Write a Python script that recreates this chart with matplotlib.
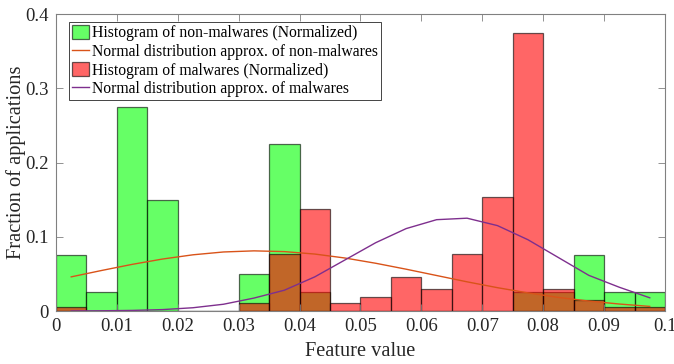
import numpy as np
import matplotlib
matplotlib.use("Agg")
import matplotlib.pyplot as plt

plt.rcParams['font.family'] = ['Liberation Serif', 'DejaVu Serif']

# histogram bins (width 0.005)
bin_edges = np.round(np.arange(0, 0.1001, 0.005), 4)
bin_centers = bin_edges[:-1] + 0.0025

# normalized histogram heights
non_malware = [0.075, 0.025, 0.275, 0.15, 0, 0, 0.05, 0.225, 0.025, 0,
               0, 0, 0, 0, 0, 0.025, 0.025, 0.075, 0.025, 0.025]
malware = [0.005, 0, 0, 0, 0, 0, 0.0105, 0.077, 0.138, 0.0105,
           0.019, 0.046, 0.030, 0.077, 0.154, 0.375, 0.030, 0.015, 0.005, 0.005]

# normal approximations, read at bin centers
normal_non_malware = [0.046, 0.0546, 0.0628, 0.070, 0.0757, 0.0795, 0.081, 0.080,
                      0.0767, 0.0713, 0.0643, 0.0563, 0.0478, 0.0393, 0.0314,
                      0.0244, 0.0183, 0.0134, 0.0094, 0.0062]
normal_malware = [0.0001, 0.0003, 0.0008, 0.0019, 0.0044, 0.0091, 0.0174, 0.028,
                  0.046, 0.069, 0.092, 0.111, 0.123, 0.125, 0.115, 0.096, 0.072,
                  0.048, 0.032, 0.0178]

fig = plt.figure(figsize=(6.74, 3.64), dpi=100)
ax = fig.add_axes([0.0831, 0.1456, 0.9035, 0.8159])

edge = (0, 0, 0, 0.6)
h1 = ax.bar(bin_edges[:-1], non_malware, width=0.005, align='edge',
            color=(0, 1, 0, 0.6), edgecolor=edge, linewidth=0.9,
            label='Histogram of non-malwares (Normalized)')
h2, = ax.plot(bin_centers, normal_non_malware, color='#D95319', lw=1.0,
              label='Normal distribution approx. of non-malwares')
h3 = ax.bar(bin_edges[:-1], malware, width=0.005, align='edge',
            color=(1, 0, 0, 0.6), edgecolor=edge, linewidth=0.9,
            label='Histogram of malwares (Normalized)')
h4, = ax.plot(bin_centers, normal_malware, color='#7E2F8E', lw=1.0,
              label='Normal distribution approx. of malwares')

ax.set_xlim(0, 0.1)
ax.set_ylim(0, 0.4)
ax.set_xticks(np.round(np.arange(0, 0.1001, 0.01), 2))
ax.set_xticklabels(['0', '0.01', '0.02', '0.03', '0.04', '0.05', '0.06',
                    '0.07', '0.08', '0.09', '0.1'])
ax.set_yticks([0, 0.1, 0.2, 0.3, 0.4])
ax.set_yticklabels(['0', '0.1', '0.2', '0.3', '0.4'])
ax.tick_params(direction='in', top=True, right=True, length=5, width=0.6,
               labelsize=13.5, colors='#262626', pad=5)
ax.tick_params(axis='both', color='#808080')
for s in ax.spines.values():
    s.set_color('#808080')
    s.set_linewidth(0.8)

ax.set_xlabel('Feature value', fontsize=14.7, color='#262626', labelpad=5)
ax.set_ylabel('Fraction of applications', fontsize=14.7, color='#262626', labelpad=0)

leg = ax.legend([h1, h2, h3, h4], [h.get_label() for h in (h1, h2, h3, h4)],
                loc='upper left', bbox_to_anchor=(0.021, 0.973), borderaxespad=0,
                fontsize=11.3, fancybox=False, framealpha=1, edgecolor='#262626',
                handlelength=1.1, handleheight=1.05, handletextpad=0.2,
                labelspacing=0.12, borderpad=0.18)
leg.get_frame().set_linewidth(0.6)

fig.savefig('out.png', dpi=100)
